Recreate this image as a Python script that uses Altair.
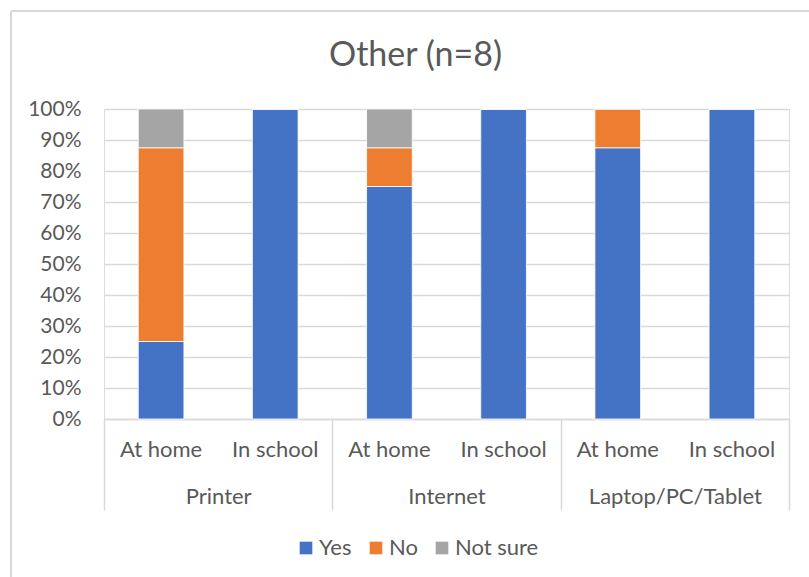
import altair as alt
import pandas as pd

# Survey responses for the "Other" respondent group (n = 8)
groups = ["Printer", "Internet", "Laptop/PC/Tablet"]
places = ["At home", "In school"]
responses = ["Yes", "No", "Not sure"]
colors = ["#4472C4", "#ED7D31", "#A5A5A5"]

# counts per (group, place), in the order Printer/home, Printer/school, ...
yes_counts = [2, 8, 6, 8, 7, 8]
no_counts = [5, 0, 1, 0, 1, 0]
not_sure_counts = [1, 0, 1, 0, 0, 0]

keys = [f"{g}|{p}" for g in groups for p in places]
rows = []
for i, key in enumerate(keys):
    for r, counts in zip(responses, [yes_counts, no_counts, not_sure_counts]):
        rows.append({"key": key, "response": r, "order": responses.index(r), "count": counts[i]})
bars_df = pd.DataFrame(rows)
groups_df = pd.DataFrame({"group": groups})

TEXT = "#595959"
GRID = "#D9D9D9"
FONT = "Lato"

W, H = 685, 310
PAD = {"left": 104, "top": 109, "right": 809 - 104 - W, "bottom": 577 - 109 - H}

bars = alt.Chart(bars_df).mark_bar(stroke="white", strokeWidth=0.8).encode(
    x=alt.X(
        "key:N",
        sort=keys,
        scale=alt.Scale(paddingInner=0.6, paddingOuter=0.3),
        axis=alt.Axis(
            title=None,
            orient="bottom",
            labelExpr="split(datum.label, '|')[1]",
            labelAngle=0,
            ticks=False,
            domain=True,
            domainColor=GRID,
            domainWidth=1.5,
            labelPadding=20,
            labelFontSize=22,
            labelColor=TEXT,
            labelFont=FONT,
            grid=False,
        ),
    ),
    y=alt.Y(
        "count:Q",
        stack="normalize",
        scale=alt.Scale(domain=[0, 1]),
        axis=alt.Axis(
            title=None,
            format=".0%",
            values=[i / 10 for i in range(11)],
            domain=False,
            ticks=False,
            labelPadding=23,
            labelFontSize=21,
            labelColor=TEXT,
            labelFont=FONT,
            gridColor=GRID,
            gridWidth=1.5,
        ),
    ),
    color=alt.Color(
        "response:N",
        sort=responses,
        scale=alt.Scale(domain=responses, range=colors),
        legend=alt.Legend(
            title=None,
            orient="none",
            direction="horizontal",
            legendX=191,
            legendY=428,
            symbolType="square",
            symbolSize=160,
            symbolStrokeWidth=0,
            labelFontSize=22,
            labelColor=TEXT,
            labelFont=FONT,
            labelOffset=2,
            columnPadding=13,
            padding=0,
        ),
    ),
    order=alt.Order("order:Q", sort="ascending"),
)

# Group level of the category axis: separators and group names
group_axis = alt.Chart(groups_df).mark_point(opacity=0).encode(
    x=alt.X(
        "group:N",
        sort=groups,
        scale=alt.Scale(paddingInner=0, paddingOuter=0),
        axis=alt.Axis(
            title=None,
            orient="bottom",
            labelAngle=0,
            domain=False,
            ticks=True,
            tickBand="extent",
            tickSize=91,
            tickColor=GRID,
            tickWidth=1.5,
            labelPadding=-24,
            labelFontSize=22,
            labelColor=TEXT,
            labelFont=FONT,
            grid=False,
        ),
    ),
)

# Chart frame (top and left edges)
frame_left = alt.Chart(groups_df).mark_rule(color=GRID, strokeWidth=1.5).encode(
    x=alt.value(11 - PAD["left"]), y=alt.value(11 - PAD["top"]), y2=alt.value(H + PAD["bottom"])
)
frame_top = alt.Chart(groups_df).mark_rule(color=GRID, strokeWidth=1.5).encode(
    x=alt.value(11 - PAD["left"]), x2=alt.value(W + PAD["right"]), y=alt.value(11 - PAD["top"])
)

chart = (
    alt.layer(bars, group_axis, frame_left, frame_top)
    .resolve_scale(x="independent")
    .properties(
        width=W,
        height=H,
        padding=PAD,
        autosize=alt.AutoSizeParams(type="none"),
        title=alt.TitleParams(
            "Other (n=8)",
            fontSize=34,
            font=FONT,
            fontWeight="normal",
            color=TEXT,
            anchor="middle",
            dx=-31,
            offset=0,
            dy=63,
        ),
    )
    .configure_view(stroke=None)
    .configure(background="white")
)

chart.save("out.html", embed_options={"renderer": "svg", "actions": False})
